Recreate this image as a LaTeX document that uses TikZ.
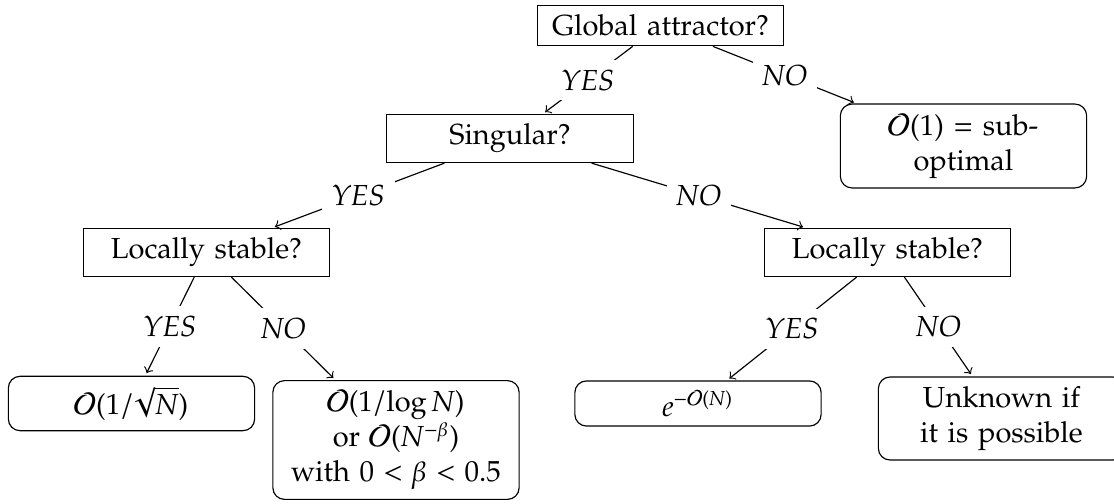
\documentclass[tikz,border=0pt]{standalone}
\usepackage[T1]{fontenc}
\usepackage{amsmath}
\usepackage{pxfonts}
\usepackage{tikz}
\tikzstyle{question} = [rectangle, draw, text width=2.75cm, align=center]
\tikzstyle{outcome} = [rectangle, rounded corners, draw, text width=2.75cm, align=center]
\tikzstyle{arrow} = [->, shorten >=1pt]
\tikzstyle{answer} = [fill=white, font=\itshape]

\begin{document}
\begin{tikzpicture}[x=0.3448pt, y=-0.3448pt]
    \useasboundingbox (0,0) rectangle (1114,503);

    \node[question] (glob) at (660.5,25.5) {Global attractor?};
    \node[question] (sing) at (510,138.5) {Singular?};
    \node[outcome] (subopt) at (963.5,146) {$\mathcal{O}(1)$ = sub-\\optimal};
    \node[question] (stabl) at (206.5,252.5) {Locally stable?};
    \node[question] (stabr) at (887.5,252.5) {Locally stable?};
    \node[outcome] (sqrtn) at (131.5,403.5) {$\mathcal{O}(1/\!\sqrt{N})$};
    \node[outcome] (logn) at (396,440) {$\mathcal{O}(1/{\log N})$\\ or $\mathcal{O}(N^{-\beta})$\\ with $0<\beta<0.5$};
    \node[outcome] (expn) at (698,403.5) {$e^{-\mathcal{O}(N)}$};
    \node[outcome] (unkn) at (1001.5,418.5) {Unknown if\\ it is possible};

    % yes/no branches
    \draw[arrow] (glob) -- node[answer] {YES} (sing);
    \draw[arrow] (glob) -- node[answer] {NO} (subopt);
    \draw[arrow] (sing) -- node[answer] {YES} (stabl);
    \draw[arrow] (sing) -- node[answer] {NO} (stabr);
    \draw[arrow] (stabl) -- node[answer] {YES} (sqrtn);
    \draw[arrow] (stabl) -- node[answer] {NO} (logn);
    \draw[arrow] (stabr) -- node[answer] {YES} (expn);
    \draw[arrow] (stabr) -- node[answer] {NO} (unkn);
\end{tikzpicture}
\end{document}
